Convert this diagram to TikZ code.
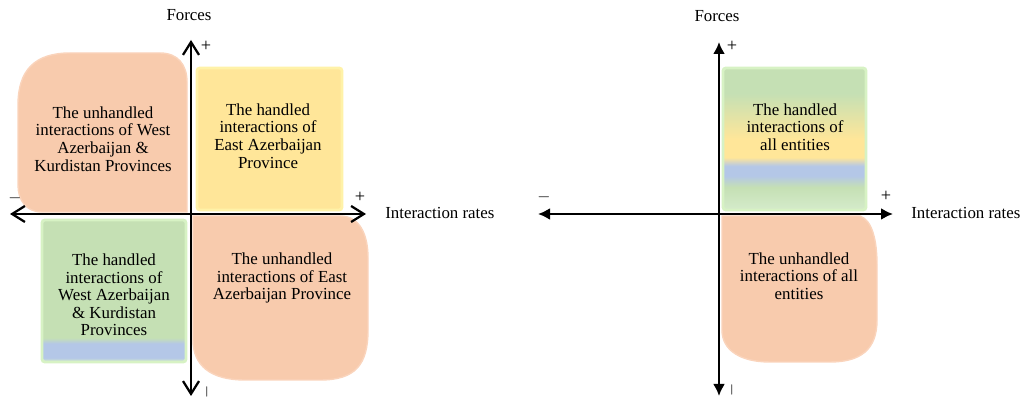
\documentclass[tikz,border=0pt]{standalone}
\usepackage{fontspec}
\setmainfont{Liberation Serif}
\usetikzlibrary{arrows.meta}

\definecolor{blobcol}{HTML}{F8CBAD}
\definecolor{blobrim}{HTML}{FAD4BC}
\definecolor{handyel}{HTML}{FFE699}
\definecolor{yelrim}{HTML}{FFF2A8}
\definecolor{handgrn}{HTML}{C5E0B4}
\definecolor{grnrim}{HTML}{D7F2C4}
\definecolor{handblu}{HTML}{B4C7E7}
\definecolor{lightgrn}{HTML}{D5EBCB}

\pgfdeclareverticalshading{westshade}{100bp}{color(0bp)=(lightgrn); color(25bp)=(lightgrn); color(26.5bp)=(handblu); color(31.5bp)=(handblu); color(33.5bp)=(handgrn); color(75bp)=(handgrn); color(100bp)=(handgrn)}
\pgfdeclareverticalshading{allshade}{100bp}{color(0bp)=(lightgrn); color(25bp)=(lightgrn); color(33bp)=(handgrn); color(37bp)=(handblu); color(40.5bp)=(handblu); color(43.5bp)=(handyel); color(50bp)=(handyel); color(66bp)=(handgrn); color(75bp)=(handgrn); color(100bp)=(handgrn)}

\tikzset{
	lbl/.style={font=\fontsize{12}{12.5}\selectfont, align=center, inner sep=0pt},
	sgn/.style={font=\fontsize{13}{14}\selectfont, inner sep=0pt},
	blob/.style={fill=blobcol, draw=blobrim, line width=1pt},
	boxrim/.style={line width=2pt, rounded corners=2pt},
	baraxis/.style={line width=1.6pt, {Straight Barb[length=3.2mm,width=4mm]}-{Straight Barb[length=3.2mm,width=4mm]}},
	tipaxis/.style={line width=1.6pt, {Latex[length=3mm,width=3mm]}-{Latex[length=3mm,width=3mm]}}
}

\begin{document}
\begin{tikzpicture}[x=0.025cm,y=-0.025cm]
				\useasboundingbox (0,0) rectangle (1025,398);
				
				\draw[blob] (187,212) -- (42,212) .. controls (26,212) and (18,200) .. (18,185) -- (18,105) .. controls (18,70) and (35,53) .. (70,53) -- (160,53) .. controls (178,53) and (187,65) .. (187,82) -- cycle;
				\draw[fill=handyel, draw=yelrim, boxrim] (197,68) rectangle (342,210);
				\draw[shade, shading=westshade, draw=grnrim, boxrim] (42,220) rectangle (186,362);
				\draw[blob] (193,216) -- (340,216) .. controls (360,216) and (368,235) .. (368,258) -- (368,330) .. controls (368,365) and (355,380) .. (320,380) -- (245,380) .. controls (210,380) and (193,365) .. (193,340) -- cycle;
				
				\draw[shade, shading=allshade, draw=grnrim, boxrim] (723,68) rectangle (866,210);
				\draw[blob] (722,216) -- (860,216) .. controls (872,220) and (877,240) .. (877,265) -- (877,320) .. controls (877,350) and (860,362) .. (830,362) -- (770,362) .. controls (740,362) and (722,350) .. (722,330) -- cycle;
				
				\coordinate (lxw) at (10,214);
				\coordinate (lxe) at (366,214);
				\coordinate (lyn) at (191,40);
				\coordinate (lys) at (191,396);
				\draw[baraxis] (lxw) -- (lxe);
				\draw[baraxis] (lys) -- (lyn);
				
				\coordinate (rxw) at (538,214);
				\coordinate (rxe) at (893,214);
				\coordinate (ryn) at (719,42);
				\coordinate (rys) at (719,396);
				\draw[tipaxis] (rxw) -- (rxe);
				\draw[tipaxis] (rys) -- (ryn);
				
				\node[lbl] (lforces) at (189,15) {Forces};
				\node[lbl, anchor=west] (lrates) at (385,213) {Interaction rates};
				\node[sgn] (lplusy) at (206,46) {+};
				\node[sgn] (lplusx) at (360,197) {+};
				\node[sgn] (lminx) at (15,198) {$-$};
				\node[sgn, rotate=90] (lminy) at (207,392) {$-$};
				
				\node[lbl] (rforces) at (717,16) {Forces};
				\node[lbl, anchor=west] (rrates) at (911,213) {Interaction rates};
				\node[sgn] (rplusy) at (732,46) {+};
				\node[sgn] (rplusx) at (886,196) {+};
				\node[sgn] (rminx) at (544,197) {$-$};
				\node[sgn, rotate=90] (rminy) at (732,390) {$-$};
				
				\node[lbl] (westunh) at (103,139) {The unhandled\\interactions of West\\Azerbaijan \&\\Kurdistan Provinces};
				\node[lbl] (easth) at (268,136) {The handled\\interactions of\\East Azerbaijan\\Province};
				\node[lbl] (westh) at (114,295) {The handled\\interactions of\\West Azerbaijan\\\& Kurdistan\\Provinces};
				\node[lbl] (eastunh) at (282,278) {The unhandled\\interactions of East\\Azerbaijan Province};
				
				\node[lbl] (allh) at (795,127) {The handled\\interactions of\\all entities};
				\node[lbl] (allunh) at (799,276) {The unhandled\\interactions of all\\entities};
			\end{tikzpicture}
\end{document}
